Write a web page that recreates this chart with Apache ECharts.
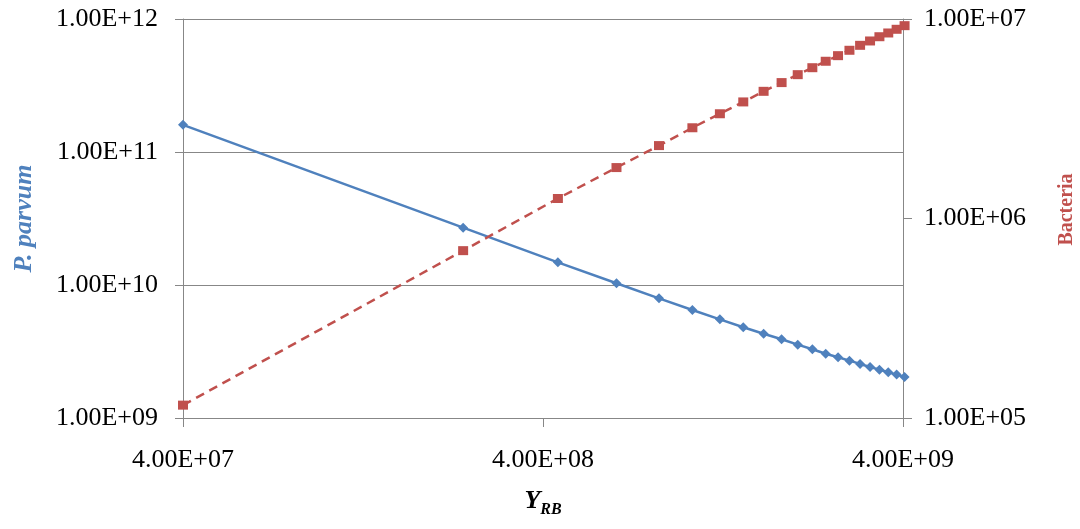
<!DOCTYPE html>
<html><head><meta charset="utf-8">
<script src="https://cdn.jsdelivr.net/npm/echarts@6/dist/echarts.min.js"></script>
<style>html,body{margin:0;padding:0;background:#fff}#c{width:1080px;height:529px}</style>
</head><body><div id="c"></div>
<script>
const yRB = [4.0e7, 2.4e8, 4.4e8, 6.4e8, 8.4e8, 1.04e9, 1.24e9, 1.44e9, 1.64e9, 1.84e9, 2.04e9, 2.24e9, 2.44e9, 2.64e9, 2.84e9, 3.04e9, 3.24e9, 3.44e9, 3.64e9, 3.84e9, 4.04e9];
const pParvum = [1.60e11, 2.70e10, 1.48e10, 1.03e10, 7.94e9, 6.49e9, 5.52e9, 4.81e9, 4.30e9, 3.91e9, 3.56e9, 3.29e9, 3.04e9, 2.86e9, 2.70e9, 2.55e9, 2.42e9, 2.31e9, 2.21e9, 2.12e9, 2.03e9];
const bacteria = [1.16e5, 6.90e5, 1.26e6, 1.80e6, 2.32e6, 2.85e6, 3.35e6, 3.84e6, 4.34e6, 4.80e6, 5.26e6, 5.70e6, 6.14e6, 6.55e6, 6.97e6, 7.38e6, 7.76e6, 8.15e6, 8.51e6, 8.88e6, 9.26e6];
const xTicks = [4e7, 4e8, 4e9];
const leftTicks = [1e9, 1e10, 1e11, 1e12];
const rightTicks = [1e5, 1e6, 1e7];

function sci(v) {
  const e = Math.floor(Math.log10(v) + 1e-9);
  const m = v / Math.pow(10, e);
  return m.toFixed(2) + 'E' + (e >= 0 ? '+' : '-') + String(Math.abs(e)).padStart(2, '0');
}
const FONT = 'Liberation Serif';
const GRAY = '#878787';
const labelStyle = { fontFamily: FONT, fontSize: 26, color: '#000' };

const chart = echarts.init(document.getElementById('c'));
chart.setOption({
  animation: false,
  backgroundColor: '#fff',
  grid: { left: 183, right: 177, top: 19, bottom: 111, containLabel: false, outerBoundsMode: 'none' },
  xAxis: {
    type: 'log', logBase: 10, min: 4e7, max: 4e9,
    name: '{y|Y}{s|RB}', nameLocation: 'middle', nameGap: 66,
    nameTextStyle: {
      rich: {
        y: { fontFamily: FONT, fontSize: 26, fontStyle: 'italic', fontWeight: 'bold', color: '#000', lineHeight: 30, verticalAlign: 'bottom' },
        s: { fontFamily: FONT, fontSize: 16, fontStyle: 'italic', fontWeight: 'bold', color: '#000', lineHeight: 30, verticalAlign: 'bottom', padding: [0, 0, -4, 0] }
      }
    },
    axisLine: { show: true, lineStyle: { color: GRAY, width: 1 } },
    axisTick: { show: true, length: 9, lineStyle: { color: GRAY }, customValues: xTicks },
    axisLabel: Object.assign({ margin: 29, formatter: v => sci(v), customValues: xTicks }, labelStyle),
    splitLine: { show: false },
    minorTick: { show: false }
  },
  yAxis: [
    {
      type: 'log', logBase: 10, min: 1e9, max: 1e12, position: 'left',
      name: 'P. parvum', nameLocation: 'middle', nameGap: 146, nameRotate: 90,
      nameTextStyle: { fontFamily: FONT, fontSize: 26, fontStyle: 'italic', fontWeight: 'bold', color: '#4F81BD' },
      axisLine: { show: true, lineStyle: { color: GRAY, width: 1 } },
      axisTick: { show: true, length: 8, lineStyle: { color: GRAY }, customValues: leftTicks },
      axisLabel: Object.assign({ margin: 25, formatter: v => sci(v), customValues: leftTicks }, labelStyle),
      splitLine: { show: true, lineStyle: { color: GRAY, width: 1 } }
    },
    {
      type: 'log', logBase: 10, min: 1e5, max: 1e7, position: 'right',
      name: 'Bacteria', nameLocation: 'middle', nameGap: 154, nameRotate: 90,
      nameTextStyle: { fontFamily: FONT, fontSize: 20, fontWeight: 'bold', color: '#C0504D', padding: [0, 0, 0, 18] },
      axisLine: { show: true, lineStyle: { color: GRAY, width: 1 } },
      axisTick: { show: true, length: 9, lineStyle: { color: GRAY }, customValues: rightTicks },
      axisLabel: Object.assign({ margin: 21, formatter: v => sci(v), customValues: rightTicks }, labelStyle),
      splitLine: { show: false }
    }
  ],
  series: [
    {
      name: 'P. parvum', type: 'line', yAxisIndex: 0, clip: false,
      data: yRB.map((x, i) => [x, pParvum[i]]),
      symbol: 'diamond', symbolSize: 10, showAllSymbol: true,
      lineStyle: { color: '#4F81BD', width: 2.5 },
      itemStyle: { color: '#4F81BD' }
    },
    {
      name: 'Bacteria', type: 'line', yAxisIndex: 1, clip: false,
      data: yRB.map((x, i) => [x, bacteria[i]]),
      symbol: 'rect', symbolSize: [10, 9], showAllSymbol: true,
      lineStyle: { color: '#C0504D', width: 2.5, type: [9, 6] },
      itemStyle: { color: '#C0504D' }
    }
  ]
});
</script></body></html>
